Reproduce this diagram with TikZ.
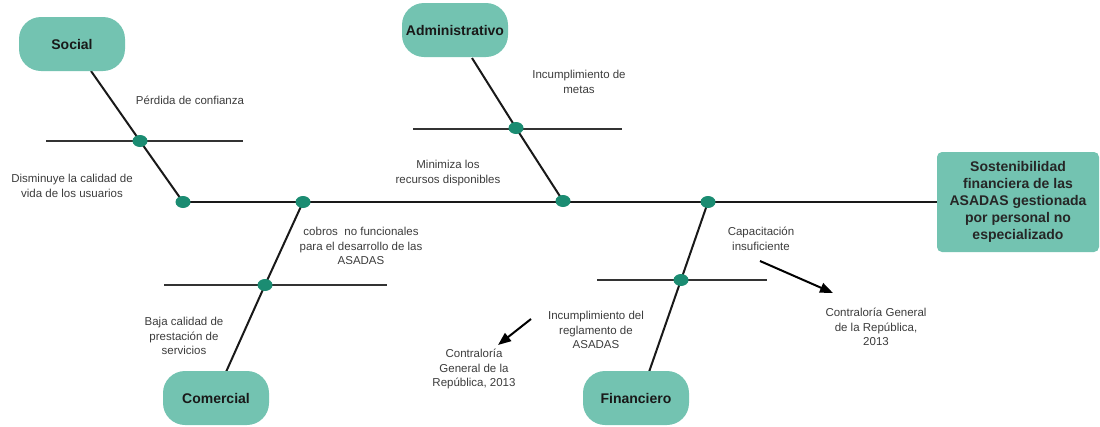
\documentclass[tikz,border=0pt]{standalone}
\usepackage{fontspec}
\setmainfont{Liberation Sans}
\usetikzlibrary{shapes.geometric,arrows.meta}
\definecolor{boxfill}{HTML}{73C3B1}
\definecolor{jointfill}{HTML}{1B8C72}
\definecolor{notegrey}{HTML}{3C3C3C}
\pgfdeclarelayer{bg}
\pgfsetlayers{bg,main}
\begin{document}
\begin{tikzpicture}[x=1pt,y=-1pt,
  category/.style={rectangle, rounded corners=22pt, fill=boxfill,
    minimum width=106pt, minimum height=54pt, inner sep=0pt,
    font=\fontsize{14}{17}\selectfont\bfseries, text=black!90},
  effectbox/.style={rectangle, rounded corners=5pt, fill=boxfill,
    minimum width=162pt, minimum height=100pt, align=center, inner sep=0pt,
    font=\fontsize{14}{17}\selectfont\bfseries, text=black!85},
  joint/.style={ellipse, fill=jointfill, minimum width=15pt,
    minimum height=12pt, inner sep=0pt},
  spine/.style={line width=2.4pt, draw=black!90},
  bone/.style={line width=2pt, draw=black!90},
  rib/.style={line width=1.8pt, draw=black!80},
  note/.style={align=center, text=notegrey, inner sep=0pt,
    font=\fontsize{11.5}{14.5}\selectfont},
  source/.style={-{Triangle[length=13pt,width=10pt]}, line width=2pt, draw=black}]

\useasboundingbox (0,0) rectangle (1100,426);

% category boxes and the effect box
\node[category] (social)     at (72,44)   {Social};
\node[category] (admin)      at (455,30)  {Administrativo};
\node[category] (comercial)  at (216,398) {Comercial};
\node[category] (financiero) at (636,398) {Financiero};
\node[effectbox] (effect) at (1018,202)
  {Sostenibilidad\\financiera de las\\ASADAS gestionada\\por personal no\\especializado};

% joints on the spine
\node[joint] (js) at (183,202) {};
\node[joint] (jc) at (303,202) {};
\node[joint] (ja) at (563,201) {};
\node[joint] (jf) at (708,202) {};
% joints on the bones
\node[joint] (ks) at (140,141) {};
\node[joint] (ka) at (516,128) {};
\node[joint] (kc) at (265,285) {};
\node[joint] (kf) at (681,280) {};

% where the bones meet the category boxes
\coordinate (socialtip) at (91,71);
\coordinate (admintip)  at (472,58);
\coordinate (comtip)    at (226,372);
\coordinate (fintip)    at (649,372);

% ends of the ribs
\coordinate (rs1) at (46,141);  \coordinate (rs2) at (243,141);
\coordinate (ra1) at (413,129); \coordinate (ra2) at (622,129);
\coordinate (rc1) at (164,285); \coordinate (rc2) at (387,285);
\coordinate (rf1) at (597,280); \coordinate (rf2) at (767,280);

\begin{pgfonlayer}{bg}
  \draw[spine] (js.center) -- (effect.west);
  \draw[bone] (js.center) -- (ks.center) -- (socialtip);
  \draw[bone] (ja.center) -- (ka.center) -- (admintip);
  \draw[bone] (jc.center) -- (kc.center) -- (comtip);
  \draw[bone] (jf.center) -- (kf.center) -- (fintip);
  \draw[rib] (rs1) -- (rs2);
  \draw[rib] (ra1) -- (ra2);
  \draw[rib] (rc1) -- (rc2);
  \draw[rib] (rf1) -- (rf2);
\end{pgfonlayer}

% causes
\node[note] (n1)  at (190,100) {Pérdida de confianza};
\node[note] (n2)  at (72,186)  {Disminuye la calidad de\\vida de los usuarios};
\node[note] (n3)  at (579,82)  {Incumplimiento de\\metas};
\node[note] (n4)  at (448,173) {Minimiza los\\recursos disponibles};
\node[note] (n5)  at (361,246) {cobros\ \ no funcionales\\para el desarrollo de las\\ASADAS};
\node[note] (n6)  at (184,336) {Baja calidad de\\prestación de\\servicios};
\node[note] (n7)  at (761,239) {Capacitación\\insuficiente};
\node[note] (n9)  at (596,330) {Incumplimiento del\\reglamento de\\ASADAS};
% sources
\node[note] (n8)  at (876,327) {Contraloría General\\de la República,\\2013};
\node[note] (n10) at (474,369) {Contraloría\\General de la\\República, 2013};

\coordinate (a1s) at (760,261); \coordinate (a1e) at (833,293);
\coordinate (a2s) at (531,319); \coordinate (a2e) at (498,345);
\draw[source] (a1s) -- (a1e);
\draw[source] (a2s) -- (a2e);
\end{tikzpicture}
\end{document}
